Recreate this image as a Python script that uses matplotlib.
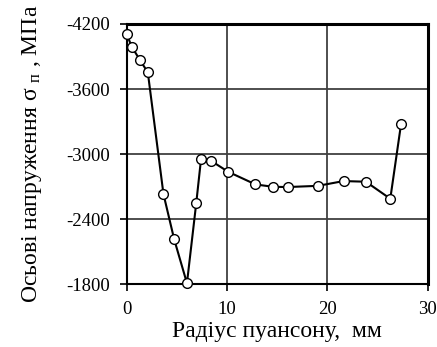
import matplotlib
matplotlib.use("Agg")
import matplotlib.pyplot as plt

radius_mm = [0.0, 0.5, 1.33, 2.1, 3.66, 4.73, 6.0, 6.93, 7.4, 8.4, 10.1,
             12.83, 14.6, 16.06, 19.06, 21.6, 23.83, 26.26, 27.33]
stress_mpa = [-4105, -3990, -3865, -3754, -2631, -2213, -1809, -2551, -2951,
              -2938, -2837, -2720, -2698, -2696, -2707, -2751, -2745, -2588, -3275]

x_ticks = [0, 10, 20, 30]
y_ticks = [-4200, -3600, -3000, -2400, -1800]

plt.rcParams['font.family'] = ['Liberation Serif', 'DejaVu Serif']
plt.rcParams['mathtext.fontset'] = 'custom'
plt.rcParams['mathtext.rm'] = 'Liberation Serif'
plt.rcParams['mathtext.it'] = 'Liberation Serif'
plt.rcParams['axes.unicode_minus'] = False

fig = plt.figure(figsize=(4.37, 3.47), dpi=100)
ax = fig.add_axes([0.29, 0.181, 0.689, 0.75])

ax.plot(radius_mm, stress_mpa, color='black', lw=1.5, marker='o', ms=7,
        mfc='white', mec='black', mew=1.0, zorder=3, clip_on=False)

ax.set_xlim(0, 30)
ax.set_ylim(-1800, -4200)
ax.set_xticks(x_ticks)
ax.set_yticks(y_ticks)
ax.grid(True, color='#404040', lw=1.3)
ax.set_axisbelow(True)
for s in ax.spines.values():
    s.set_color('black')
    s.set_linewidth(2.2)
ax.spines['left'].set_linewidth(1.5)
ax.spines['bottom'].set_linewidth(1.5)
ax.tick_params(direction='out', length=5, width=1.2, labelsize=13.5, colors='black')
ax.tick_params(axis='y', pad=7)
ax.tick_params(axis='x', pad=7)

ax.set_xlabel('Радіус пуансону,  мм', fontsize=17, labelpad=2)
ax.set_ylabel(r'Осьові напруження σ $_{\mathrm{п}}$ , МПа', fontsize=17, labelpad=16)

fig.savefig('out.png', dpi=100)
